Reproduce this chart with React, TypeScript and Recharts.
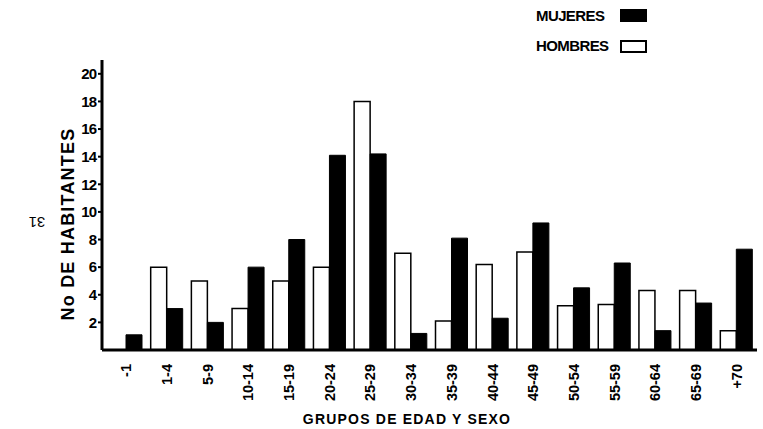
import React from "react";
import { BarChart, Bar, XAxis, YAxis } from "recharts";

const grupos = ["-1", "1-4", "5-9", "10-14", "15-19", "20-24", "25-29", "30-34", "35-39", "40-44", "45-49", "50-54", "55-59", "60-64", "65-69", "+70"];
const hombres = [0, 6, 5, 3, 5, 6, 18, 7, 2.1, 6.2, 7.1, 3.2, 3.3, 4.3, 4.3, 1.4];
const mujeres = [1.1, 3, 2, 6, 8, 14.1, 14.2, 1.2, 8.1, 2.3, 9.2, 4.5, 6.3, 1.4, 3.4, 7.3];
const yTicks = [2, 4, 6, 8, 10, 12, 14, 16, 18, 20];

const data = grupos.map((g, i) => ({ grupo: g, hombres: hombres[i], mujeres: mujeres[i] }));

const FONT = "'Liberation Sans', Arial, sans-serif";

const XTick = ({ x, y, payload }: any) => (
  <text
    x={x}
    y={y + 6}
    transform={`rotate(-90, ${x}, ${y + 6})`}
    textAnchor="end"
    dominantBaseline="central"
    fontFamily={FONT}
    fontWeight="bold"
    fontSize={14.5}
    fill="#000"
  >
    {payload.value}
  </text>
);

export default function App() {
  return (
    <div style={{ position: "absolute", left: 0, top: 0, width: 763, height: 429, background: "#fff" }}>
      <BarChart
        width={763}
        height={429}
        data={data}
        margin={{ top: 60, right: 6, bottom: 0, left: 0 }}
        barGap={0}
        barSize={16}
      >
        <XAxis
          dataKey="grupo"
          height={79}
          tick={<XTick />}
          tickLine={false}
          axisLine={{ stroke: "#000", strokeWidth: 3 }}
          interval={0}
          padding={{ left: 4, right: 0 }}
        />
        <YAxis
          width={102}
          domain={[0, 21]}
          ticks={yTicks}
          tickSize={4}
          tickLine={{ stroke: "#000", strokeWidth: 2 }}
          axisLine={{ stroke: "#000", strokeWidth: 3 }}
          tick={{ fill: "#000", fontFamily: FONT, fontWeight: "bold", fontSize: 15, letterSpacing: -1 }}
        />
        <Bar dataKey="hombres" fill="#fff" stroke="#000" strokeWidth={1.5} isAnimationActive={false} />
        <Bar dataKey="mujeres" fill="#000" stroke="#000" strokeWidth={1} isAnimationActive={false} />
      </BarChart>

      <div style={{ position: "absolute", left: 536, top: 7, fontFamily: FONT, fontWeight: "bold", fontSize: 15, letterSpacing: -0.6, lineHeight: "18px" }}>MUJERES</div>
      <div style={{ position: "absolute", left: 620, top: 9, width: 27, height: 13, background: "#000" }} />
      <div style={{ position: "absolute", left: 536, top: 37, fontFamily: FONT, fontWeight: "bold", fontSize: 15, letterSpacing: -0.6, lineHeight: "18px" }}>HOMBRES</div>
      <div style={{ position: "absolute", left: 620, top: 40, width: 23, height: 9, border: "2px solid #000", background: "#fff" }} />

      <div
        style={{
          position: "absolute",
          left: 68,
          top: 224,
          transform: "translate(-50%, -50%) rotate(-90deg)",
          whiteSpace: "nowrap",
          fontFamily: FONT,
          fontWeight: "bold",
          fontSize: 18,
          letterSpacing: 1.2,
        }}
      >
        No DE HABITANTES
      </div>
      <div
        style={{
          position: "absolute",
          left: 407,
          top: 419,
          transform: "translate(-50%, -50%)",
          whiteSpace: "nowrap",
          fontFamily: FONT,
          fontWeight: "bold",
          fontSize: 14,
          letterSpacing: 1.2,
        }}
      >
        GRUPOS DE EDAD Y SEXO
      </div>
      <div
        style={{
          position: "absolute",
          left: 37,
          top: 222,
          transform: "translate(-50%, -50%) rotate(180deg)",
          fontFamily: FONT,
          fontSize: 15,
          color: "#000",
        }}
      >
        31
      </div>
    </div>
  );
}
